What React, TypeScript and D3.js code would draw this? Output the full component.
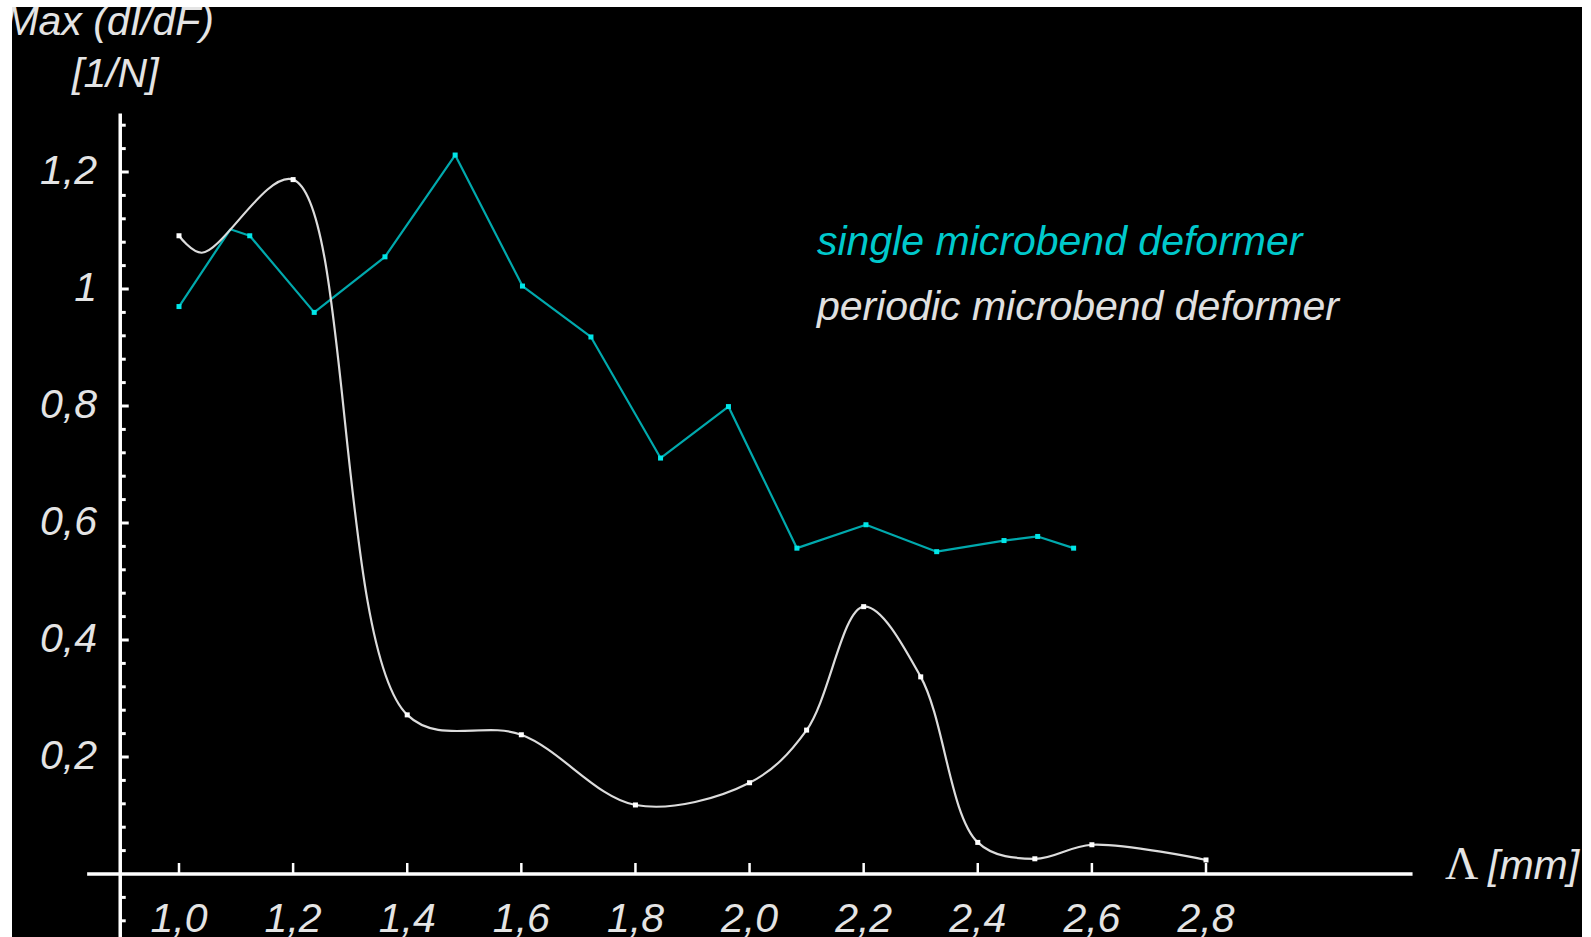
import React from "react";
import * as d3 from "d3";

// ---- data ----
const xTicks = [1.0, 1.2, 1.4, 1.6, 1.8, 2.0, 2.2, 2.4, 2.6, 2.8];
const xTickLabels = ["1,0", "1,2", "1,4", "1,6", "1,8", "2,0", "2,2", "2,4", "2,6", "2,8"];
const yTicks = [0.2, 0.4, 0.6, 0.8, 1.0, 1.2];
const yTickLabels = ["0,2", "0,4", "0,6", "0,8", "1", "1,2"];

const singleX = [1.0, 1.09, 1.124, 1.237, 1.361, 1.484, 1.602, 1.722, 1.844, 1.963, 2.083, 2.204, 2.328, 2.446, 2.505, 2.568];
const singleY = [0.970, 1.102, 1.091, 0.960, 1.055, 1.229, 1.005, 0.918, 0.711, 0.799, 0.557, 0.597, 0.551, 0.570, 0.577, 0.557];

const periodicX = [1.0, 1.04, 1.2, 1.4, 1.6, 1.8, 2.0, 2.1, 2.2, 2.3, 2.4, 2.5, 2.6, 2.8];
const periodicY = [1.091, 1.062, 1.187, 0.272, 0.238, 0.118, 0.156, 0.246, 0.457, 0.337, 0.054, 0.026, 0.050, 0.024];

const seriesNames = ["single microbend deformer", "periodic microbend deformer"];

export default function App() {
  const W = 1591;
  const H = 937;
  const x = d3.scaleLinear().domain([1, 2.8]).range([179, 1206]);
  const y = d3.scaleLinear().domain([0, 1.2]).range([874, 172]);

  const lineSingle = d3
    .line<[number, number]>()
    .x((d) => x(d[0]))
    .y((d) => y(d[1]))
    .curve(d3.curveLinear);
  const linePeriodic = d3
    .line<[number, number]>()
    .x((d) => x(d[0]))
    .y((d) => y(d[1]))
    .curve(d3.curveCatmullRom.alpha(0.5));

  const single: [number, number][] = singleX.map((v, i) => [v, singleY[i]]);
  const periodic: [number, number][] = periodicX.map((v, i) => [v, periodicY[i]]);

  const minorIdx = d3.range(-2, 33);
  const axisX = x(0.897);
  const axisY = y(0);

  const font = "'Liberation Sans', Arial, sans-serif";
  const fs = 41;
  const textCol = "#e4e4e4";
  const cyan = "#00a9ad";
  const cyanBright = "#00e6e8";

  return (
    <svg
      width={W}
      height={H}
      style={{ position: "absolute", left: 0, top: 0, display: "block" }}
    >
      <rect x={0} y={0} width={W} height={H} fill="#ffffff" />
      <rect x={12} y={7} width={1570} height={H - 7} fill="#000000" />

      {/* y axis */}
      <line x1={axisX} x2={axisX} y1={y(1.3)} y2={H} stroke="#ffffff" strokeWidth={3.5} />
      {minorIdx.map((i) => {
        const v = i * 0.04;
        const major = i % 5 === 0;
        if (i === 0) return null;
        return (
          <line
            key={"yt" + i}
            x1={axisX}
            x2={axisX + (major ? 8.5 : 5.5)}
            y1={y(v)}
            y2={y(v)}
            stroke="#ffffff"
            strokeWidth={3}
          />
        );
      })}
      {yTicks.map((v, i) => (
        <text
          key={"yl" + i}
          x={97}
          y={y(v) + 12}
          textAnchor="end"
          fontFamily={font}
          fontStyle="italic"
          fontSize={fs}
          fill={textCol}
        >
          {yTickLabels[i]}
        </text>
      ))}

      {/* x axis */}
      <line x1={x(0.839)} x2={x(3.162)} y1={axisY} y2={axisY} stroke="#ffffff" strokeWidth={3.5} />
      {xTicks.map((v, i) => (
        <g key={"xt" + i}>
          <line x1={x(v)} x2={x(v)} y1={axisY} y2={axisY - 11} stroke="#ffffff" strokeWidth={2.5} />
          <text
            x={x(v)}
            y={932}
            textAnchor="middle"
            fontFamily={font}
            fontStyle="italic"
            fontSize={fs}
            fill={textCol}
          >
            {xTickLabels[i]}
          </text>
        </g>
      ))}

      {/* series */}
      <path d={lineSingle(single) || ""} fill="none" stroke={cyan} strokeWidth={2.2} strokeLinejoin="round" />
      <path d={linePeriodic(periodic) || ""} fill="none" stroke="#dcdcdc" strokeWidth={2.2} />
      {single.map((d, i) =>
        i === 1 ? null : (
          <rect key={"sm" + i} x={x(d[0]) - 2.5} y={y(d[1]) - 2.5} width={5} height={5} fill={cyanBright} />
        )
      )}
      {periodic.map((d, i) =>
        i === 1 ? null : (
          <rect key={"pm" + i} x={x(d[0]) - 2.5} y={y(d[1]) - 2.5} width={5} height={5} fill="#ffffff" />
        )
      )}

      {/* legend */}
      <text x={817} y={255} fontFamily={font} fontStyle="italic" fontSize={fs} fill="#00c9cc">
        {seriesNames[0]}
      </text>
      <text x={817} y={320} fontFamily={font} fontStyle="italic" fontSize={fs} fill="#e0e0e0">
        {seriesNames[1]}
      </text>

      {/* axis titles */}
      <text x={214} y={35} textAnchor="end" fontFamily={font} fontStyle="italic" fontSize={fs} fill={textCol}>
        Max (dI/dF)
      </text>
      <text x={72} y={87} fontFamily={font} fontStyle="italic" fontSize={fs} fill={textCol}>
        [1/N]
      </text>
      <text x={1445} y={879} fontFamily="'Liberation Serif', 'Times New Roman', serif" fontSize={46} fill={textCol}>
        Λ
      </text>
      <text x={1488} y={879} fontFamily={font} fontStyle="italic" fontSize={fs} fill={textCol}>
        [mm]
      </text>

      {/* white frame on top */}
      <rect x={0} y={0} width={12} height={H} fill="#ffffff" />
      <rect x={0} y={0} width={W} height={7} fill="#ffffff" />
      <rect x={1582} y={0} width={W - 1582} height={H} fill="#ffffff" />
    </svg>
  );
}
